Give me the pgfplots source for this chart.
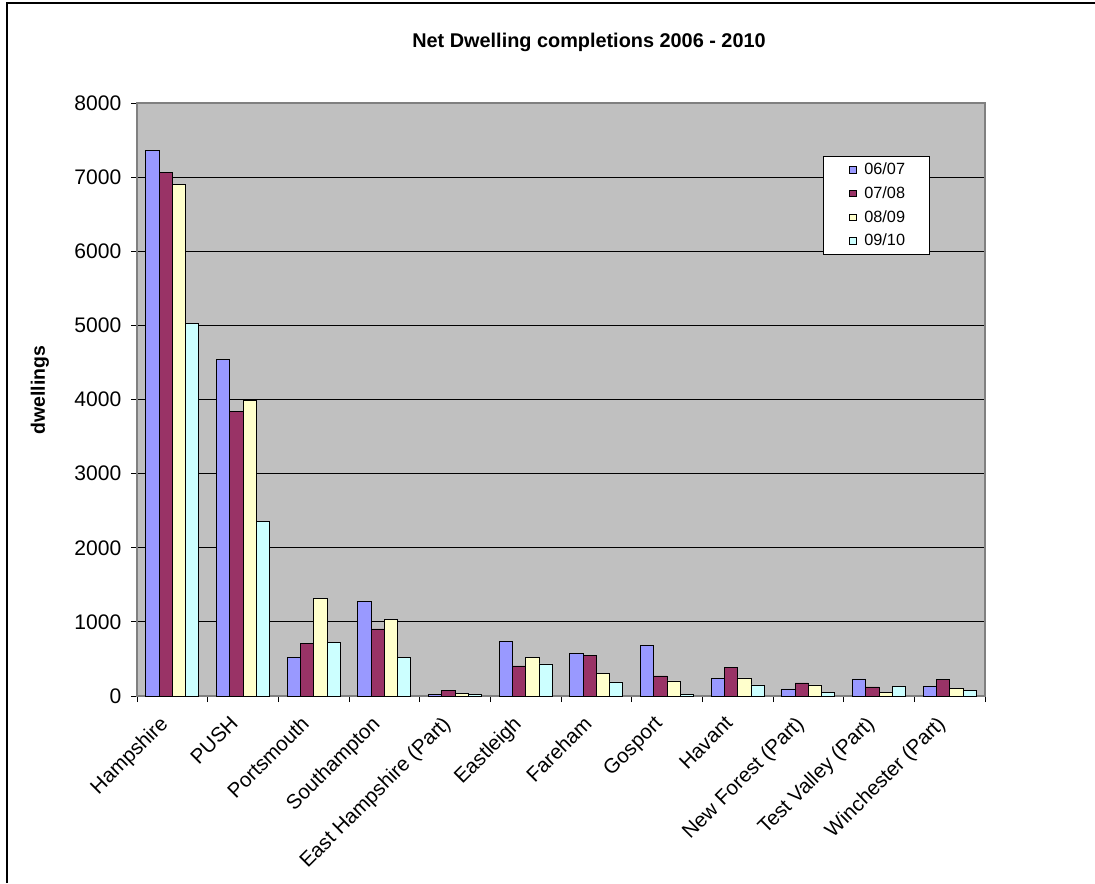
\documentclass[border=0pt]{standalone}
\usepackage{fontspec}
\setmainfont{Liberation Sans}
\usepackage{pgfplots}
\pgfplotsset{compat=1.18}
\definecolor{c1}{HTML}{9999FF}
\definecolor{c2}{HTML}{993366}
\definecolor{c3}{HTML}{FFFFCC}
\definecolor{c4}{HTML}{CCFFFF}
\definecolor{bg}{HTML}{C0C0C0}
\definecolor{ax}{HTML}{808080}
\begin{document}
\begin{tikzpicture}[x=0.75pt,y=0.75pt]
\path[use as bounding box] (0,0) rectangle (1095,883);
\draw[black, line width=1.2pt] (7,0) -- (7,880) -- (1095,880);
\node[font=\fontsize{14.9}{16}\selectfont\bfseries] at (589,841) {Net Dwelling completions 2006 - 2010};
\node[font=\fontsize{14.6}{15}\selectfont\bfseries, rotate=90] at (40,493) {dwellings};
\begin{axis}[
  at={(102.75pt,140.25pt)}, anchor=south west,
  scale only axis, width=636pt, height=444.75pt,
  ybar=0pt, bar width=9.94pt,
  xmin=-0.5, xmax=11.5, ymin=0, ymax=8000,
  ytick={0,1000,...,8000},
  xtick={-0.5,0.5,...,11.5}, xticklabels={},
  extra x ticks={0,1,2,3,4,5,6,7,8,9,10,11},
  extra x tick labels={Hampshire,PUSH,Portsmouth,Southampton,East Hampshire (Part),Eastleigh,Fareham,Gosport,Havant,New Forest (Part),Test Valley (Part),Winchester (Part)},
  extra x tick style={major tick length=0pt, grid=none},
  xtick pos=bottom, ytick pos=left,
  tick align=outside, major tick length=4.5pt,
  ymajorgrids, grid style={black, line width=0.75pt},
  axis background/.style={fill=bg},
  axis line style={ax, line width=1pt},
  tick style={black, line width=0.75pt},
  x tick label style={xshift=-10.5pt, yshift=-9pt, rotate=45, anchor=north east, font=\fontsize{15.4}{15}\selectfont},
  y tick label style={font=\fontsize{15.8}{16}\selectfont, xshift=-3.75pt},
  /pgf/number format/assume math mode=true,
  scaled y ticks=false, yticklabel style={/pgf/number format/1000 sep={}},
  every axis plot/.append style={draw=black, line width=0.6pt},
  legend style={at={(0.809,0.9106)}, anchor=north west, draw=black, fill=white,
    font=\fontsize{12.2}{12}\selectfont, inner xsep=16pt, inner ysep=3pt, row sep=3.4pt},
  legend cell align=left,
  legend image code/.code={\path[draw=none,fill=none] (-3.8pt,0) -- (9pt,0); \draw[#1, line width=0.5pt] (0pt,-2.3pt) rectangle (4.6pt,2.3pt);},
]
\addplot[fill=c1] coordinates {(0,7354) (1,4542) (2,518) (3,1274) (4,27) (5,738) (6,571) (7,684) (8,234) (9,95) (10,230) (11,135)};
\addplot[fill=c2] coordinates {(0,7067) (1,3834) (2,708) (3,905) (4,81) (5,405) (6,545) (7,270) (8,383) (9,176) (10,122) (11,221)};
\addplot[fill=c3] coordinates {(0,6906) (1,3987) (2,1314) (3,1027) (4,40) (5,518) (6,310) (7,203) (8,243) (9,149) (10,54) (11,108)};
\addplot[fill=c4] coordinates {(0,5023) (1,2349) (2,725) (3,518) (4,22) (5,432) (6,189) (7,27) (8,149) (9,54) (10,135) (11,81)};
\legend{06/07,07/08,08/09,09/10}
\end{axis}
\end{tikzpicture}
\end{document}
